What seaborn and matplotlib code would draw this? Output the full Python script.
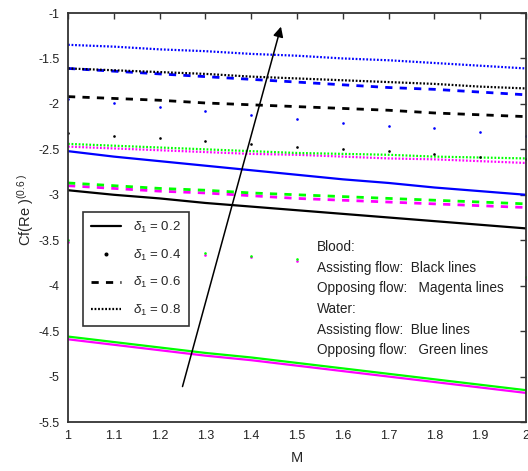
import numpy as np
import pandas as pd
import matplotlib
matplotlib.use("Agg")
import matplotlib.pyplot as plt
import seaborn as sns
from matplotlib.lines import Line2D

M = [1.0, 1.1, 1.2, 1.3, 1.4, 1.5, 1.6, 1.7, 1.8, 1.9, 2.0]

# Blood, assisting flow (black)
blood_assist_02 = [-2.95, -3.00, -3.04, -3.09, -3.13, -3.17, -3.21, -3.25, -3.29, -3.33, -3.37]
blood_assist_04 = [-2.32, -2.35, -2.38, -2.41, -2.44, -2.47, -2.50, -2.52, -2.55, -2.58, -2.61]
blood_assist_06 = [-1.92, -1.94, -1.96, -1.99, -2.01, -2.03, -2.05, -2.07, -2.10, -2.12, -2.14]
blood_assist_08 = [-1.61, -1.63, -1.65, -1.67, -1.70, -1.72, -1.74, -1.76, -1.78, -1.81, -1.83]

# Blood, opposing flow (magenta)
blood_oppose_02 = [-4.59, -4.65, -4.71, -4.77, -4.82, -4.88, -4.94, -5.00, -5.06, -5.12, -5.18]
blood_oppose_04 = [-3.52, -3.57, -3.61, -3.66, -3.69, -3.73, -3.77, -3.81, -3.85, -3.89, -3.93]
blood_oppose_06 = [-2.90, -2.93, -2.96, -2.98, -3.01, -3.04, -3.06, -3.08, -3.10, -3.12, -3.14]
blood_oppose_08 = [-2.47, -2.49, -2.51, -2.53, -2.55, -2.56, -2.58, -2.60, -2.61, -2.63, -2.65]

# Water, assisting flow (blue)
water_assist_02 = [-2.52, -2.58, -2.63, -2.68, -2.73, -2.78, -2.83, -2.87, -2.92, -2.96, -3.00]
water_assist_04 = [-1.95, -1.99, -2.03, -2.08, -2.12, -2.17, -2.21, -2.24, -2.27, -2.31, -2.35]
water_assist_06 = [-1.61, -1.64, -1.67, -1.70, -1.73, -1.76, -1.79, -1.82, -1.84, -1.87, -1.90]
water_assist_08 = [-1.35, -1.37, -1.40, -1.42, -1.45, -1.47, -1.50, -1.52, -1.55, -1.58, -1.61]

# Water, opposing flow (green)
water_oppose_02 = [-4.56, -4.62, -4.68, -4.74, -4.79, -4.85, -4.91, -4.97, -5.03, -5.09, -5.15]
water_oppose_04 = [-3.50, -3.55, -3.59, -3.64, -3.67, -3.71, -3.75, -3.79, -3.83, -3.87, -3.91]
water_oppose_06 = [-2.87, -2.90, -2.93, -2.95, -2.98, -3.00, -3.02, -3.04, -3.06, -3.08, -3.10]
water_oppose_08 = [-2.44, -2.46, -2.48, -2.50, -2.52, -2.54, -2.55, -2.56, -2.58, -2.59, -2.60]

delta_labels = ["0.2", "0.4", "0.6", "0.8"]
annotation_lines = ["Blood:", "Assisting flow:  Black lines", "Opposing flow:   Magenta lines",
                    "Water:", "Assisting flow:  Blue lines", "Opposing flow:   Green lines"]

sns.set_style("white")
plt.rcParams["font.family"] = ["Liberation Sans", "DejaVu Sans"]
plt.rcParams["mathtext.fontset"] = "custom"
plt.rcParams["mathtext.it"] = "Liberation Sans:italic"
plt.rcParams["mathtext.rm"] = "Liberation Sans"

fig = plt.figure(figsize=(5.28, 4.71), dpi=100)
ax = fig.add_axes([68 / 528, 1 - 422 / 471, 458 / 528, 409 / 471])

styles = {
    "0.2": dict(linestyle="-", linewidth=1.6),
    "0.4": dict(linestyle="none", marker=".", markersize=3.8),
    "0.6": dict(linestyle=(0, (2.6, 2.6)), linewidth=2.0),
    "0.8": dict(linestyle=(0, (0.8, 0.8)), linewidth=1.6),
}

groups = [
    ("#ff00ff", [blood_oppose_02, blood_oppose_04, blood_oppose_06, blood_oppose_08]),
    ("#00ff00", [water_oppose_02, water_oppose_04, water_oppose_06, water_oppose_08]),
    ("#0000ff", [water_assist_02, water_assist_04, water_assist_06, water_assist_08]),
    ("#000000", [blood_assist_02, blood_assist_04, blood_assist_06, blood_assist_08]),
]

for color, series in groups:
    for lab, vals in zip(delta_labels, series):
        df = pd.DataFrame({"M": M, "Cf": vals})
        sns.lineplot(data=df, x="M", y="Cf", ax=ax, color=color,
                     markeredgewidth=0, legend=False, **styles[lab])

ax.set_xlim(1, 2)
ax.set_ylim(-5.5, -1)
ax.set_xticks(np.arange(1, 2.01, 0.1))
ax.set_xticklabels(["1", "1.1", "1.2", "1.3", "1.4", "1.5", "1.6", "1.7", "1.8", "1.9", "2"])
ax.set_yticks(np.arange(-5.5, -0.99, 0.5))
ax.set_yticklabels(["-5.5", "-5", "-4.5", "-4", "-3.5", "-3", "-2.5", "-2", "-1.5", "-1"])
ax.tick_params(direction="in", length=4, width=1, top=True, right=True,
               labelsize=9, colors="#333333", labelcolor="#222222", pad=6)
for s in ax.spines.values():
    s.set_visible(True)
    s.set_color("#333333")
    s.set_linewidth(1.3)

ax.set_xlabel("M", fontsize=10.5, labelpad=6)
ax.set_ylabel(r"Cf(Re )$^{(0.6\ )}$", fontsize=10.5)
ax.yaxis.set_label_coords(-0.07, 0.52)

# Trend arrow for increasing delta_1
ax.annotate("", xy=(1.465, -1.15), xytext=(1.25, -5.11),
            arrowprops=dict(arrowstyle="-|>", color="black", lw=1.1,
                            mutation_scale=15, shrinkA=0, shrinkB=0))

# Explanatory text with white background
txt = "\n".join(annotation_lines)
ax.text(1.544, -3.5, txt, fontsize=9.8, va="top", ha="left", linespacing=1.6,
        color="#222222", zorder=5,
        bbox=dict(facecolor="white", edgecolor="none", pad=1))

handles = [Line2D([], [], color="black", **styles[lab]) for lab in delta_labels]
labels = [r"$\delta_1$ = " + lab for lab in delta_labels]
leg = ax.legend(handles, labels, loc="upper left", bbox_to_anchor=(0.033, 0.513),
                borderaxespad=0, fontsize=9.5, frameon=True, fancybox=False, framealpha=1,
                handlelength=2.3, labelspacing=0.95, borderpad=0.6, handletextpad=0.9)
leg.get_frame().set_edgecolor("#333333")
leg.get_frame().set_linewidth(1.2)
leg.set_zorder(6)

fig.savefig("out.png", dpi=100)
